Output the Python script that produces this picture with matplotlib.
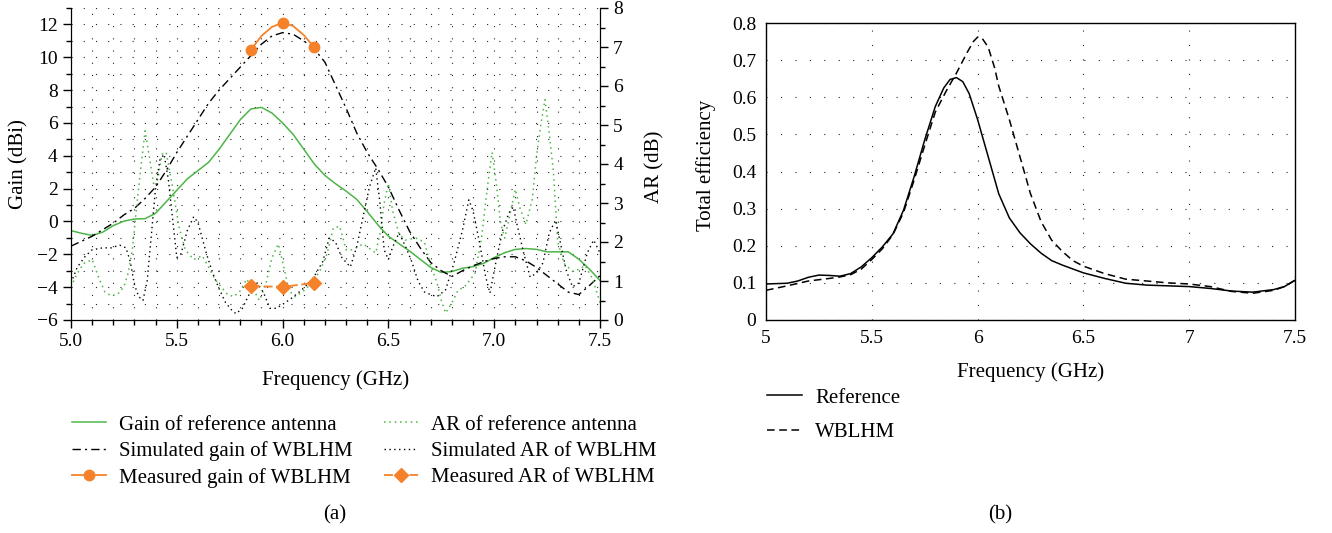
import matplotlib
matplotlib.use('Agg')
import matplotlib.pyplot as plt
from matplotlib.ticker import MultipleLocator

plt.rcParams['font.family'] = ['Liberation Serif', 'DejaVu Serif']

GREEN = '#4db548'
ORANGE = '#f5822a'

# (a) gain, dBi
freq_gain = [5.0, 5.05, 5.1, 5.15, 5.2, 5.25, 5.3, 5.35, 5.4, 5.45, 5.5, 5.55,
             5.6, 5.65, 5.7, 5.75, 5.8, 5.85, 5.9, 5.95, 6.0, 6.05, 6.1, 6.15,
             6.2, 6.25, 6.3, 6.35, 6.4, 6.45, 6.5, 6.55, 6.6, 6.65, 6.7, 6.75,
             6.8, 6.85, 6.9, 6.95, 7.0, 7.05, 7.1, 7.15, 7.2, 7.25, 7.3, 7.35,
             7.4, 7.45, 7.5]
gain_ref = [-0.56, -0.72, -0.85, -0.65, -0.25, 0.02, 0.15, 0.17, 0.5, 1.2, 1.9,
            2.6, 3.1, 3.6, 4.4, 5.3, 6.2, 6.85, 6.95, 6.6, 6.0, 5.3, 4.4, 3.5,
            2.8, 2.3, 1.85, 1.35, 0.6, -0.2, -0.9, -1.35, -1.8, -2.3, -2.8,
            -3.1, -3.05, -2.85, -2.75, -2.55, -2.2, -1.9, -1.7, -1.65, -1.7,
            -1.85, -1.85, -1.85, -2.3, -2.9, -3.6]
gain_sim = [-1.5, -1.2, -0.9, -0.5, -0.1, 0.4, 0.8, 1.4, 2.1, 3.1, 4.2, 5.2,
            6.2, 7.2, 8.0, 8.7, 9.4, 10.1, 10.8, 11.3, 11.5, 11.4, 11.0, 10.5,
            9.7, 8.3, 6.9, 5.4, 4.2, 3.2, 2.1, 0.7, -0.6, -1.6, -2.5, -3.0,
            -3.35, -3.0, -2.7, -2.45, -2.25, -2.15, -2.15, -2.4, -2.8, -3.3,
            -3.8, -4.3, -4.45, -3.9, -3.3]
freq_gain_meas = [5.85, 5.9, 5.95, 6.0, 6.05, 6.1, 6.15]
gain_meas = [10.45, 11.3, 11.85, 12.1, 11.9, 11.35, 10.6]

# (a) axial ratio, dB
freq_ar_ref = [5.00, 5.03, 5.06, 5.10, 5.13, 5.16, 5.19, 5.22, 5.25, 5.27,
               5.29, 5.31, 5.33, 5.35, 5.37, 5.39, 5.41, 5.43, 5.45, 5.48,
               5.51, 5.54, 5.58, 5.62, 5.65, 5.68, 5.71, 5.74, 5.77, 5.80,
               5.83, 5.86, 5.89, 5.92, 5.95, 5.98, 6.00, 6.03, 6.06, 6.10,
               6.14, 6.18, 6.21, 6.24, 6.27, 6.30, 6.33, 6.38, 6.44, 6.46,
               6.48, 6.50, 6.52, 6.55, 6.58, 6.63, 6.67, 6.70, 6.73, 6.75,
               6.77, 6.80, 6.83, 6.86, 6.91, 6.94, 6.97, 6.99, 7.01, 7.03,
               7.05, 7.07, 7.10, 7.12, 7.15, 7.18, 7.20, 7.22, 7.24, 7.26,
               7.28, 7.30, 7.33, 7.37, 7.40, 7.43, 7.46, 7.48, 7.50]
ar_ref = [0.85, 1.2, 1.45, 1.55, 1.1, 0.72, 0.62, 0.66, 0.85, 1.2,
          1.8, 2.9, 3.9, 4.85, 4.2, 3.5, 3.6, 4.25, 4.3, 3.4,
          2.4, 1.8, 1.55, 1.65, 1.36, 1.05, 0.85, 0.65, 0.6, 0.75,
          1.05, 0.8, 0.5, 0.9, 1.6, 1.95, 1.5, 0.75, 0.6, 0.75,
          0.95, 1.3, 1.7, 2.36, 2.4, 1.8, 1.8, 1.95, 1.72, 2.2,
          3.0, 3.5, 2.8, 2.2, 2.05, 2.1, 2.0, 1.4, 0.95, 0.5,
          0.18, 0.44, 0.77, 0.85, 1.2, 2.1, 3.5, 4.3, 3.5, 2.5,
          2.1, 2.6, 3.35, 2.9, 2.45, 3.1, 4.2, 5.0, 5.65, 4.8,
          3.8, 2.0, 1.45, 1.25, 1.3, 1.4, 1.1, 0.8, 0.44]
freq_ar_sim = [5.00, 5.03, 5.07, 5.10, 5.15, 5.19, 5.23, 5.26, 5.28, 5.30,
               5.32, 5.34, 5.36, 5.38, 5.40, 5.42, 5.44, 5.46, 5.48, 5.50,
               5.52, 5.55, 5.58, 5.60, 5.62, 5.64, 5.67, 5.70, 5.73, 5.76,
               5.78, 5.81, 5.85, 5.88, 5.91, 5.94, 5.97, 6.00, 6.04, 6.09,
               6.14, 6.19, 6.22, 6.25, 6.28, 6.32, 6.35, 6.38, 6.41, 6.44,
               6.46, 6.48, 6.50, 6.52, 6.55, 6.58, 6.61, 6.64, 6.67, 6.70,
               6.73, 6.77, 6.81, 6.85, 6.88, 6.90, 6.93, 6.96, 6.98, 7.01,
               7.04, 7.07, 7.09, 7.11, 7.14, 7.17, 7.20, 7.23, 7.26, 7.29,
               7.31, 7.34, 7.37, 7.40, 7.44, 7.47, 7.50]
ar_sim = [0.95, 1.36, 1.65, 1.8, 1.85, 1.85, 1.92, 1.85, 1.5, 0.9,
          0.6, 0.5, 1.0, 2.2, 3.4, 4.1, 4.25, 3.6, 2.6, 1.6,
          1.7, 2.3, 2.65, 2.5, 2.1, 1.7, 1.2, 0.8, 0.45, 0.25,
          0.16, 0.3, 0.75, 0.95, 0.7, 0.3, 0.3, 0.4, 0.55, 0.77,
          1.03, 1.5, 2.1, 2.0, 1.6, 1.36, 1.87, 2.64, 3.4, 3.9,
          3.0, 1.8, 1.55, 1.87, 2.23, 1.9, 1.5, 1.0, 0.72, 0.65,
          0.6, 0.77, 1.46, 2.3, 3.08, 2.8, 2.0, 1.1, 0.69, 1.54,
          2.3, 2.75, 2.9, 2.4, 1.7, 1.1, 1.2, 1.46, 2.23, 2.56,
          2.05, 1.28, 0.85, 0.95, 1.72, 2.05, 1.72]
freq_ar_meas = [5.85, 6.0, 6.15]
ar_meas = [0.87, 0.85, 0.95]

# (b) total efficiency
freq_eff_ref = [5.0, 5.1, 5.15, 5.2, 5.25, 5.3, 5.35, 5.4, 5.45, 5.5, 5.55,
                5.6, 5.65, 5.7, 5.75, 5.8, 5.84, 5.87, 5.9, 5.93, 5.96, 6.0,
                6.05, 6.1, 6.15, 6.2, 6.25, 6.3, 6.35, 6.4, 6.5, 6.6, 6.7,
                6.8, 6.9, 7.0, 7.1, 7.2, 7.3, 7.4, 7.45, 7.5]
eff_ref = [0.097, 0.099, 0.105, 0.115, 0.121, 0.12, 0.118, 0.125, 0.143,
           0.168, 0.197, 0.232, 0.296, 0.386, 0.485, 0.575, 0.625, 0.648,
           0.653, 0.642, 0.61, 0.54, 0.44, 0.34, 0.275, 0.235, 0.205, 0.18,
           0.16, 0.148, 0.127, 0.112, 0.099, 0.094, 0.092, 0.09, 0.085,
           0.078, 0.075, 0.082, 0.09, 0.107]
freq_eff_wblhm = [5.0, 5.1, 5.2, 5.3, 5.35, 5.4, 5.45, 5.5, 5.55, 5.6, 5.65,
                  5.7, 5.75, 5.8, 5.85, 5.9, 5.95, 5.98, 6.0, 6.02, 6.05,
                  6.08, 6.1, 6.15, 6.2, 6.25, 6.3, 6.35, 6.4, 6.45, 6.5, 6.6,
                  6.7, 6.8, 6.9, 7.0, 7.1, 7.2, 7.3, 7.4, 7.45, 7.5]
eff_wblhm = [0.08, 0.092, 0.105, 0.112, 0.116, 0.122, 0.137, 0.163, 0.192,
             0.23, 0.29, 0.377, 0.47, 0.56, 0.615, 0.665, 0.72, 0.75, 0.762,
             0.76, 0.735, 0.68, 0.63, 0.54, 0.44, 0.34, 0.265, 0.215, 0.185,
             0.16, 0.145, 0.125, 0.11, 0.105, 0.1, 0.097, 0.09, 0.077, 0.072,
             0.08, 0.09, 0.107]

FS_TICK = 14
FS_LABEL = 15

fig = plt.figure(figsize=(13.32, 5.33), dpi=100)

# ---------------- (a) ----------------
ax1 = fig.add_axes([71 / 1332, 1 - 320 / 533, 529 / 1332, 312 / 533])
ax2 = ax1.twinx()

ax1.set_xlim(5.0, 7.5)
ax1.set_ylim(-6, 13)
ax2.set_ylim(0, 8)
ax1.xaxis.set_minor_locator(MultipleLocator(0.1))
ax1.yaxis.set_minor_locator(MultipleLocator(1))
ax2.yaxis.set_major_locator(MultipleLocator(1))
ax2.yaxis.set_minor_locator(MultipleLocator(0.5))
ax1.set_yticks(range(-6, 13, 2))
ax1.set_xticks([5.0, 5.5, 6.0, 6.5, 7.0, 7.5])
ax1.set_xticklabels(['5.0', '5.5', '6.0', '6.5', '7.0', '7.5'])

ax1.grid(which='both', color='0.15', linewidth=0.8, linestyle=(0, (1, 10)))
for ax in (ax1, ax2):
    ax.spines['top'].set_visible(False)
    ax.tick_params(which='major', direction='out', length=6, width=1,
                   labelsize=FS_TICK)
    ax.tick_params(which='minor', direction='out', length=3.5, width=1)

l1, = ax1.plot(freq_gain, gain_ref, color=GREEN, lw=1.1)
l2, = ax1.plot(freq_gain, gain_sim, color='black', lw=1.0,
               linestyle=(0, (6, 3, 1.5, 3)))
l3, = ax1.plot(freq_gain_meas, gain_meas, color=ORANGE, lw=1.3,
               marker='o', markersize=7.5, markevery=[0, 3, 6])
l4, = ax2.plot(freq_ar_ref, ar_ref, color=GREEN, lw=1.1,
               linestyle=(0, (1, 2.5)))
l5, = ax2.plot(freq_ar_sim, ar_sim, color='black', lw=1.0,
               linestyle=(0, (1, 2.5)))
l6, = ax2.plot(freq_ar_meas, ar_meas, color=ORANGE, lw=1.3,
               linestyle=(0, (5, 2)), marker='D', markersize=7)

ax1.set_xlabel('Frequency (GHz)', fontsize=FS_LABEL)
ax1.set_ylabel('Gain (dBi)', fontsize=FS_LABEL)
ax2.set_ylabel('AR (dB)', fontsize=FS_LABEL)
ax1.xaxis.set_label_coords(0.5, -0.16)
ax1.yaxis.set_label_coords(-0.081, 0.5)
ax2.yaxis.set_label_coords(1.085, 0.49)

h_a = [l1, l2, l3, l4, l5, l6]
lab_a = ['Gain of reference antenna', 'Simulated gain of WBLHM',
         'Measured gain of WBLHM', 'AR of reference antenna',
         'Simulated AR of WBLHM', 'Measured AR of WBLHM']
fig.legend(h_a, lab_a, ncol=2, loc='upper left',
           bbox_to_anchor=(72 / 1332, 1 - 415 / 533), frameon=False,
           fontsize=FS_LABEL, borderpad=0, borderaxespad=0,
           handlelength=1.65, handletextpad=0.6, labelspacing=0.32,
           columnspacing=1.5)
fig.text(335 / 1332, 1 - 515 / 533, '(a)', ha='center', va='center',
         fontsize=FS_LABEL)

# ---------------- (b) ----------------
ax3 = fig.add_axes([766 / 1332, 1 - 320 / 533, 529 / 1332, 297 / 533])
ax3.plot(freq_eff_ref, eff_ref, color='black', lw=1.1, label='Reference')
ax3.plot(freq_eff_wblhm, eff_wblhm, color='black', lw=1.1,
         linestyle=(0, (5, 3)), label='WBLHM')
ax3.set_xlim(5, 7.5)
ax3.set_ylim(0, 0.8)
ax3.set_xticks([5, 5.5, 6, 6.5, 7, 7.5])
ax3.set_xticklabels(['5', '5.5', '6', '6.5', '7', '7.5'])
ax3.set_yticks([0, 0.1, 0.2, 0.3, 0.4, 0.5, 0.6, 0.7, 0.8])
ax3.set_yticklabels(['0', '0.1', '0.2', '0.3', '0.4', '0.5', '0.6', '0.7',
                     '0.8'])
ax3.tick_params(length=0, pad=7, labelsize=FS_TICK)
ax3.grid(color='0.15', linewidth=0.8, linestyle=(0, (1, 12)))
for s in ax3.spines.values():
    s.set_linewidth(1.0)
ax3.set_xlabel('Frequency (GHz)', fontsize=FS_LABEL)
ax3.set_ylabel('Total efficiency', fontsize=FS_LABEL)
ax3.xaxis.set_label_coords(0.5, -0.141)
ax3.yaxis.set_label_coords(-0.095, 0.52)

fig.legend(*ax3.get_legend_handles_labels(), loc='upper left',
           bbox_to_anchor=(767 / 1332, 1 - 388 / 533), frameon=False,
           fontsize=FS_LABEL, borderpad=0, borderaxespad=0,
           handlelength=1.7, handletextpad=0.6, labelspacing=0.72)
fig.text(1000 / 1332, 1 - 515 / 533, '(b)', ha='center', va='center',
         fontsize=FS_LABEL)

fig.savefig('out.png', dpi=100)
